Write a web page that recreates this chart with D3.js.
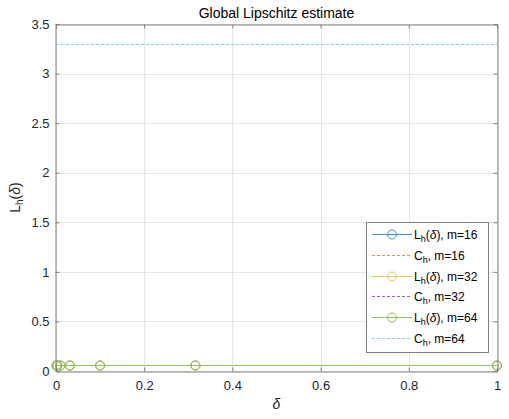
<!DOCTYPE html>
<html><head><meta charset="utf-8">
<script src="https://cdn.jsdelivr.net/npm/d3@7"></script>
<style>body{margin:0;background:#fff}svg{display:block}text{font-family:"Liberation Sans",Arial,sans-serif}</style>
</head><body><svg id="c" width="509" height="419"></svg>
<script>
const deltas = [1, 0.3162, 0.1, 0.03162, 0.01, 0.003162, 0.001];
const L16 = [0.065, 0.065, 0.065, 0.065, 0.065, 0.065, 0.065];
const L32 = [0.065, 0.065, 0.065, 0.065, 0.065, 0.065, 0.065];
const L64 = [0.065, 0.065, 0.065, 0.065, 0.065, 0.065, 0.065];
const C16 = 3.3, C32 = 3.3, C64 = 3.3;
const xTicks = [0, 0.2, 0.4, 0.6, 0.8, 1];
const yTicks = [0, 0.5, 1, 1.5, 2, 2.5, 3, 3.5];
const colors = ["#3f93d0","#ef8a5a","#f2c255","#9c62b8","#8ec25a","#7fd3f5"];

const svg = d3.select("#c");
const m = {l:56, r:497, t:24, b:371};
const x = d3.scaleLinear().domain([0,1]).range([m.l,m.r]);
const y = d3.scaleLinear().domain([0,3.5]).range([m.b,m.t]);
const cy = v => Math.round(y(v)) + 0.5;

// grid
const g = svg.append("g");
xTicks.forEach(t=>g.append("line").attr("x1",Math.round(x(t))+0.5).attr("x2",Math.round(x(t))+0.5).attr("y1",m.t).attr("y2",m.b).attr("stroke","#e6e6e6").attr("stroke-width",1));
yTicks.forEach(t=>g.append("line").attr("x1",m.l).attr("x2",m.r).attr("y1",cy(t)).attr("y2",cy(t)).attr("stroke","#e6e6e6").attr("stroke-width",1));

// data
const series = [
  {type:"L", vals:L16, c:colors[0], label:"m=16"},
  {type:"C", val:C16, c:colors[1], label:"m=16"},
  {type:"L", vals:L32, c:colors[2], label:"m=32"},
  {type:"C", val:C32, c:colors[3], label:"m=32"},
  {type:"L", vals:L64, c:colors[4], label:"m=64"},
  {type:"C", val:C64, c:colors[5], label:"m=64"}
];
const line = d3.line().x(d=>x(d[0])).y(d=>cy(d[1]));
series.forEach(s=>{
  if(s.type==="L"){
    const pts = deltas.map((d,i)=>[d,s.vals[i]]);
    svg.append("path").attr("d",line(pts)).attr("fill","none").attr("stroke",s.c).attr("stroke-width",1).attr("shape-rendering","crispEdges");
    svg.selectAll(null).data(pts).enter().append("circle").attr("cx",d=>x(d[0])).attr("cy",d=>cy(d[1])).attr("r",4.5).attr("fill","none").attr("stroke",s.c).attr("stroke-width",1);
  } else {
    svg.append("line").attr("x1",x(0)).attr("x2",x(1)).attr("y1",cy(s.val)).attr("y2",cy(s.val)).attr("stroke",s.c).attr("stroke-width",1).attr("stroke-dasharray","3,2").attr("shape-rendering","crispEdges");
  }
});

// axes
const axC = "#262626";
const xa = svg.append("g").attr("transform",`translate(0,${m.b+0.5})`).call(d3.axisBottom(x).tickValues(xTicks).tickFormat(d3.format("~g")).tickSizeInner(-4).tickSizeOuter(0).tickPadding(9));
const ya = svg.append("g").attr("transform",`translate(${m.l-0.5},0)`).call(d3.axisLeft(y).tickValues(yTicks).tickFormat(d3.format("~g")).tickSizeInner(-4).tickSizeOuter(0).tickPadding(6));
const xt = svg.append("g").attr("transform",`translate(0,${m.t+0.5})`).call(d3.axisTop(x).tickValues(xTicks).tickFormat("").tickSizeInner(-4).tickSizeOuter(0));
const yr = svg.append("g").attr("transform",`translate(${m.r+0.5},0)`).call(d3.axisRight(y).tickValues(yTicks).tickFormat("").tickSizeInner(-4).tickSizeOuter(0));
[xa,ya,xt,yr].forEach(a=>{a.selectAll("path,line").attr("stroke","#808080");a.selectAll("text").attr("fill",axC).style("font-size","13px");});

// title
svg.append("text").attr("x",(m.l+m.r)/2).attr("y",18).attr("text-anchor","middle").style("font-size","14px").attr("fill","#000").text("Global Lipschitz estimate");
// x label
svg.append("text").attr("x",(m.l+m.r)/2).attr("y",409).attr("text-anchor","middle").style("font-size","14px").style("font-style","italic").attr("fill",axC).text("δ");
// y label
const yl = svg.append("text").attr("transform",`translate(20,${(m.t+m.b)/2}) rotate(-90)`).attr("text-anchor","middle").style("font-size","14px").attr("fill",axC);
yl.append("tspan").text("L");
yl.append("tspan").attr("dy",3).style("font-size","10px").text("h");
yl.append("tspan").attr("dy",-3).text("(");
yl.append("tspan").style("font-style","italic").text("δ");
yl.append("tspan").text(")");

// legend
const lg = svg.append("g");
lg.append("rect").attr("x",366.5).attr("y",222.5).attr("width",122).attr("height",130).attr("fill","#fff").attr("stroke","#808080").attr("stroke-width",1);
series.forEach((s,i)=>{
  const yy = Math.round(234 + i*20.8) + 0.5;
  const l = lg.append("line").attr("x1",372).attr("x2",412).attr("y1",yy).attr("y2",yy).attr("stroke",s.c).attr("stroke-width",1).attr("shape-rendering","crispEdges");
  if(s.type==="C") l.attr("stroke-dasharray","3,2");
  else lg.append("circle").attr("cx",392).attr("cy",yy).attr("r",4.5).attr("fill","none").attr("stroke",s.c).attr("stroke-width",1);
  const t = lg.append("text").attr("x",414).attr("y",yy+4).style("font-size","12px").attr("fill","#000");
  if(s.type==="L"){
    t.append("tspan").text("L");
    t.append("tspan").attr("dy",3).style("font-size","9px").text("h");
    t.append("tspan").attr("dy",-3).text("(");
    t.append("tspan").style("font-style","italic").text("δ");
    t.append("tspan").text("), "+s.label);
  } else {
    t.append("tspan").text("C");
    t.append("tspan").attr("dy",3).style("font-size","9px").text("h");
    t.append("tspan").attr("dy",-3).text(", "+s.label);
  }
});
</script></body></html>
